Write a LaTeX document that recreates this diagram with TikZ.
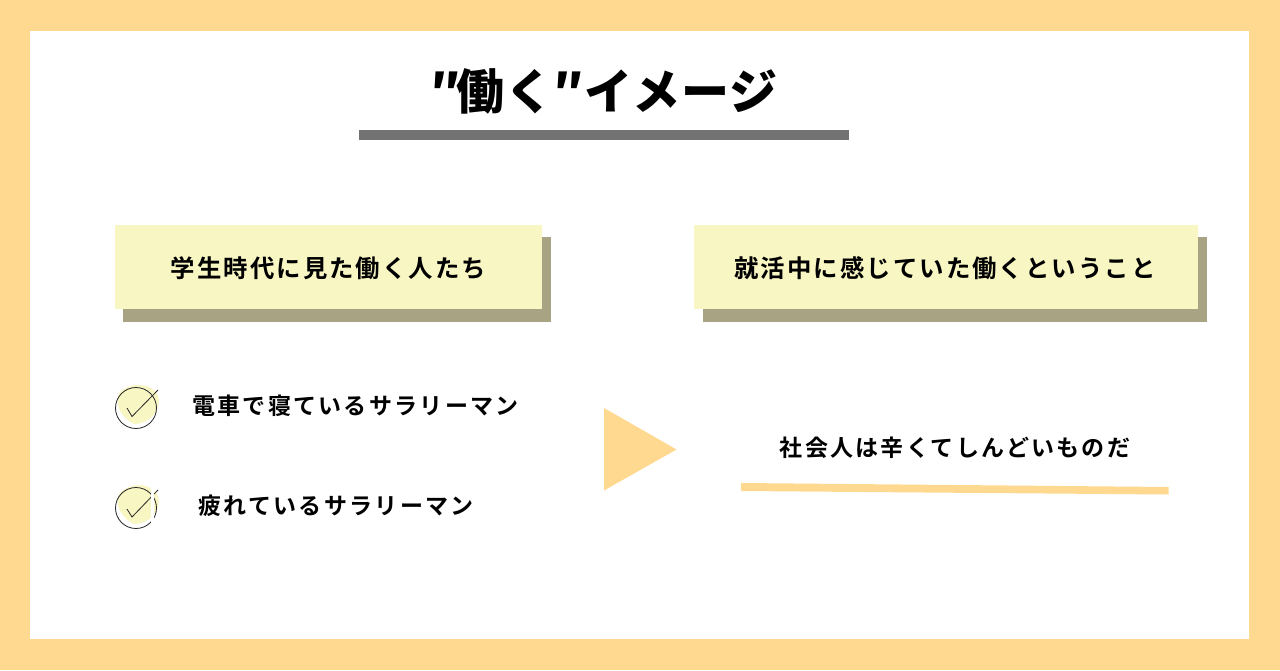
\documentclass[tikz,border=0pt]{standalone}
\usepackage{fontspec}
\newfontfamily\jptitle{Noto Sans CJK JP Black}[LetterSpace=1]
\newfontfamily\jpb{Noto Sans CJK JP Bold}[LetterSpace=8.5]
\newfontfamily\jpc{Noto Sans CJK JP Bold}[LetterSpace=10]
\definecolor{frame}{HTML}{FFD98F}
\definecolor{pale}{HTML}{F8F6C3}
\definecolor{shade}{HTML}{A8A382}
\definecolor{bar}{HTML}{737373}
\tikzset{
  x=1pt,y=-1pt,
  shadowbox/.style={fill=shade,draw=none},
  headtext/.style={font=\jpb\fontsize{24.4}{28}\selectfont,text=black,inner sep=0pt},
  itemtext/.style={font=\jpc\fontsize{23}{26}\selectfont,text=black,inner sep=0pt},
  tick/.style={draw=black!85,line width=0.8pt}
}
\begin{document}
\begin{tikzpicture}
\useasboundingbox (0,0) rectangle (1280,670);
\fill[frame] (0,0) rectangle (1280,670);
\fill[white] (30,31) rectangle (1249,639);
\node[font=\jptitle\fontsize{48}{56}\selectfont,inner sep=0pt] (title) at (603.5,91) {″\kern-3.5pt 働く″イメージ};
\fill[bar] (359,130) rectangle (849,140);
% headers
\fill[shadowbox] (123,237) rectangle (550.5,322);
\fill[pale] (115,225) rectangle (542,309);
\node[headtext] (h1) at (328.5,268) {学生時代に見た働く人たち};
\fill[shadowbox] (703,237) rectangle (1206.5,322);
\fill[pale] (694.2,225) rectangle (1198,309);
\node[headtext] (h2) at (945,268) {就活中に感じていた働くということ};
% check 1
\fill[pale] (120,392) .. controls (130,382) and (152,382) .. (158,396) .. controls (162,410) and (150,424) .. (134,424) .. controls (124,420) and (112,404) .. (120,392) -- cycle;
\draw[tick] (136,408) circle (20.5);
\draw[tick] (127,408) -- (132,416.5) -- (158,390);
\node[itemtext] (i1) at (355.5,405.5) {電車で寝ているサラリーマン};
% check 2
\fill[pale] (120,493) .. controls (130,482) and (152,482) .. (158,496) .. controls (162,510) and (150,524) .. (134,524) .. controls (124,520) and (112,504) .. (120,493) -- cycle;
\draw[tick] (136,508) circle (20.5);
\draw[tick] (127,509) -- (132,517) -- (158,490);
\fill[white] (151,480) rectangle (153.5,530);
\node[itemtext] (i2) at (336,506) {疲れているサラリーマン};
% arrow
\fill[frame] (604,408) -- (676.5,449.5) -- (604,490.5) -- cycle;
\node[itemtext] (c) at (955,447.5) {社会人は辛くてしんどいものだ};
\fill[frame] (741,483) -- (1168.5,487) -- (1168.5,494.5) -- (741,491) -- cycle;
\end{tikzpicture}
\end{document}
